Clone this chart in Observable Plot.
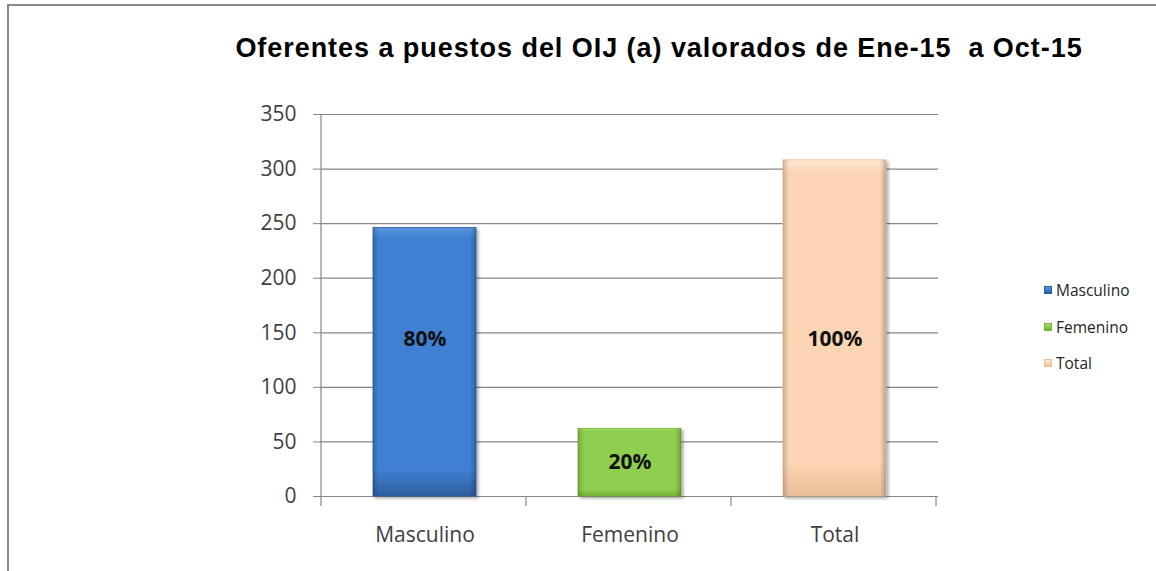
<!DOCTYPE html>
<html>
<head>
<meta charset="utf-8">
<script src="https://cdn.jsdelivr.net/npm/d3@7"></script>
<script src="https://cdn.jsdelivr.net/npm/@observablehq/plot@0.6"></script>
<style>
  html, body { margin: 0; padding: 0; background: #fff; }
  #wrap { position: relative; width: 1156px; height: 571px; overflow: hidden; background: #fff; }
  #frame { position: absolute; left: 7px; top: 4px; width: 1200px; height: 600px;
           border-top: 2px solid #8a8a8a; border-left: 2px solid #8a8a8a; }
  #title { position: absolute; left: 0; width: 1318px; top: 34px; text-align: center;
           font-family: "Liberation Sans", Arial, sans-serif; font-weight: bold; font-size: 27px;
           letter-spacing: 0.95px; line-height: 28px; color: #000; white-space: pre; }
  #chart { position: absolute; left: 0; top: 0; }
  #legend { position: absolute; left: 1044px; top: 272px; font-family: "Open Sans", sans-serif;
            font-size: 15.5px; color: #262626; }
  .li { display: flex; align-items: center; height: 36.5px; }
  .sw { width: 8px; height: 8px; margin-right: 4px; }
</style>
</head>
<body>
<div id="wrap">
  <div id="frame"></div>
  <div id="chart"></div>
  <div id="title"></div>
  <div id="legend"></div>
</div>
<script>
const titleText = "Oferentes a puestos del OIJ (a) valorados de Ene-15  a Oct-15";
const categories = ["Masculino", "Femenino", "Total"];
const values = [246, 62, 308];
const shares = ["80%", "20%", "100%"];
const labelAt = [144, 31, 144];
const yTicks = [0, 50, 100, 150, 200, 250, 300, 350];
const colorsTop = ["#5a95e0", "#a6de6a", "#fee6d0"];
const colorsMid = ["#4180d3", "#8fcf4f", "#fcd5b4"];
const colorsBot = ["#2d5e9e", "#74b23a", "#e9bf9a"];

const rows = categories.map((c, i) => ({category: c, value: values[i], share: shares[i], labelAt: labelAt[i]}));

document.getElementById("title").textContent = titleText;

const marks = [
  Plot.gridY(yTicks, {stroke: "#868686", strokeOpacity: 1, strokeWidth: 1.2}),
  Plot.axisY({ticks: yTicks, tickSize: 8, tickPadding: 17, stroke: "#868686", fill: "#404040", strokeOpacity: 1}),
  Plot.axisX({tickSize: 0, tickPadding: 31, fill: "#404040"})
];
categories.forEach((c, i) => {
  const d = rows.filter(r => r.category === c);
  marks.push(Plot.barY(d, {x: "category", y: "value", fill: `url(#g${i})`, stroke: colorsBot[i], strokeWidth: 0.8}));
  marks.push(Plot.barY(d, {x: "category", y: "value", fill: "url(#edge)"}));
});
marks.push(Plot.text(rows, {x: "category", y: "labelAt", text: "share", fontWeight: "bold", fontSize: 21,
  fill: "#111", fontFamily: "Open Sans"}));

const chart = Plot.plot({
  width: 1156,
  height: 571,
  marginLeft: 321,
  marginRight: 218,
  marginTop: 114,
  marginBottom: 75,
  style: {fontFamily: "Open Sans, sans-serif", fontSize: "21px", background: "transparent", overflow: "visible"},
  x: {domain: categories, paddingInner: 0.5, paddingOuter: 0.25, label: null},
  y: {domain: [0, 350], label: null},
  marks
});
document.getElementById("chart").appendChild(chart);

// gradients & shadow
const svg = d3.select(chart);
const defs = svg.insert("defs", ":first-child");
categories.forEach((c, i) => {
  const g = defs.append("linearGradient").attr("id", `g${i}`).attr("x1", 0).attr("y1", 0).attr("x2", 0).attr("y2", 1);
  g.append("stop").attr("offset", "0%").attr("stop-color", colorsTop[i]);
  g.append("stop").attr("offset", "4%").attr("stop-color", colorsMid[i]);
  g.append("stop").attr("offset", "90%").attr("stop-color", colorsMid[i]);
  g.append("stop").attr("offset", "100%").attr("stop-color", colorsBot[i]);
});
const e = defs.append("linearGradient").attr("id", "edge").attr("x1", 0).attr("y1", 0).attr("x2", 1).attr("y2", 0);
e.append("stop").attr("offset", "0%").attr("stop-color", "#000").attr("stop-opacity", 0.18);
e.append("stop").attr("offset", "6%").attr("stop-color", "#000").attr("stop-opacity", 0);
e.append("stop").attr("offset", "94%").attr("stop-color", "#000").attr("stop-opacity", 0);
e.append("stop").attr("offset", "100%").attr("stop-color", "#000").attr("stop-opacity", 0.22);
const f = defs.append("filter").attr("id", "shadow").attr("x", "-10%").attr("y", "-10%").attr("width", "130%").attr("height", "130%");
f.append("feDropShadow").attr("dx", 2).attr("dy", 2).attr("stdDeviation", 1.5).attr("flood-color", "#000").attr("flood-opacity", 0.35);
svg.selectAll("g[aria-label='bar']").filter((d, i) => i % 2 === 0).attr("filter", "url(#shadow)");

// axis line and category boundary ticks
const xs = chart.scale("x"), ys = chart.scale("y");
const x0 = xs.range[0];
const yb = ys.apply(0), yt = ys.apply(350);
svg.append("line").attr("x1", x0).attr("x2", x0).attr("y1", yt).attr("y2", yb + 0.5).attr("stroke", "#868686").attr("stroke-width", 1.2);
const step = xs.step;
const bounds = d3.range(categories.length + 1).map(k => x0 + k * step);
svg.append("g").selectAll("line").data(bounds).join("line")
  .attr("x1", d => d).attr("x2", d => d).attr("y1", yb).attr("y2", yb + 10)
  .attr("stroke", "#868686").attr("stroke-width", 1.2);

// legend
const legend = d3.select("#legend");
categories.forEach((c, i) => {
  const li = legend.append("div").attr("class", "li");
  li.append("div").attr("class", "sw")
    .style("background", `linear-gradient(${colorsTop[i]}, ${colorsMid[i]} 40%, ${colorsBot[i]})`)
    .style("border", `1px solid ${colorsBot[i]}`).style("box-sizing", "border-box");
  li.append("span").text(c);
});
</script>
</body>
</html>
